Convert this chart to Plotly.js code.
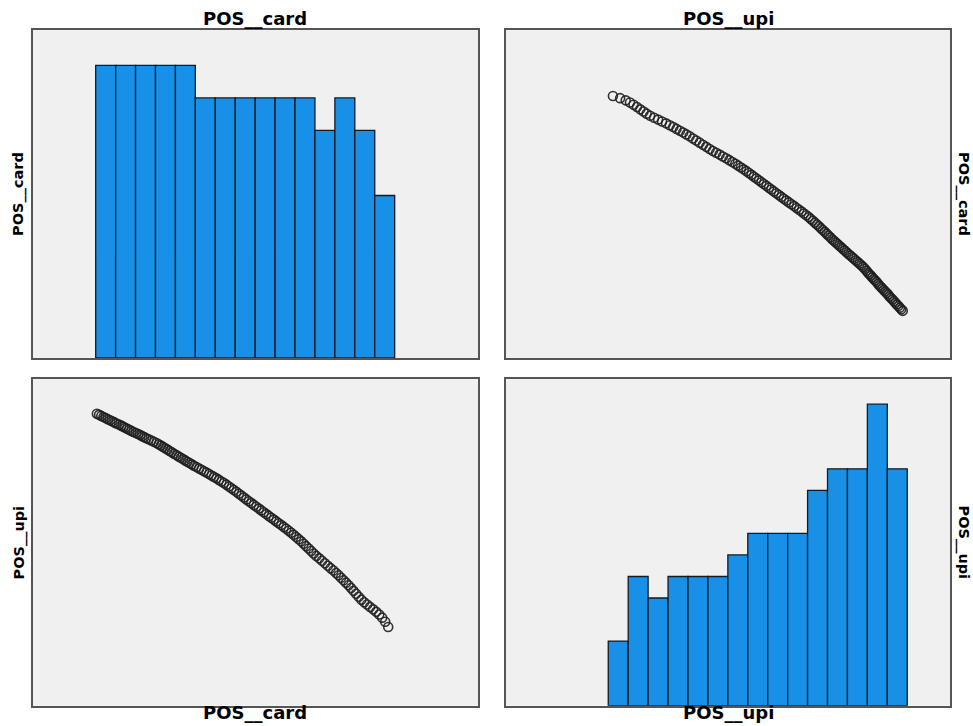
<!DOCTYPE html>
<html>
<head>
<meta charset="utf-8">
<script src="https://cdn.plot.ly/plotly-3.0.1.min.js"></script>
<style>html,body{margin:0;padding:0;background:#fff;}#chart{width:973px;height:726px;}</style>
</head>
<body>
<div id="chart"></div>
<script>
// Variable names
const varCard = "POS__card";
const varUpi = "POS__upi";

const cardValues = [
  40.12,40.34,40.56,40.78,41.00,41.22,41.44,41.66,41.88,
  42.08,42.34,42.56,42.76,42.96,43.16,43.36,43.58,43.80,
  44.04,44.25,44.46,44.67,44.88,45.09,45.32,45.58,45.84,
  46.10,46.32,46.54,46.76,46.98,47.20,47.42,47.64,47.86,
  48.10,48.32,48.54,48.76,48.98,49.20,49.42,49.64,49.86,
  50.12,50.37,50.62,50.87,51.12,51.37,51.62,51.87,
  52.12,52.37,52.62,52.87,53.12,53.37,53.62,53.87,
  54.12,54.37,54.62,54.87,55.12,55.37,55.62,55.87,
  56.12,56.37,56.62,56.87,57.12,57.37,57.62,57.87,
  58.12,58.37,58.62,58.87,59.12,59.37,59.62,59.87,
  60.12,60.37,60.62,60.87,61.12,61.37,61.62,61.87,
  62.14,62.43,62.71,63.00,63.29,63.57,63.86,
  64.12,64.37,64.62,64.87,65.12,65.37,65.62,65.87,
  66.13,66.39,66.66,66.94,67.23,67.53,67.84,
  68.15,68.45,68.75,69.05,69.35
];

// POS__upi values (paired with cardValues, same order)
const upiValues = [
  59.55,59.40,59.26,59.11,58.96,58.81,58.67,58.52,58.37,58.22,58.08,
  57.93,57.79,57.64,57.50,57.36,57.21,57.07,56.93,56.79,56.64,56.50,56.36,56.21,56.07,
  55.91,55.74,55.57,55.39,55.21,55.03,54.85,54.66,54.48,54.29,54.10,
  53.91,53.73,53.55,53.37,53.19,53.01,52.83,52.65,52.46,52.28,52.09,
  51.91,51.72,51.53,51.33,51.14,50.94,50.74,50.53,50.32,50.11,
  49.88,49.64,49.40,49.15,48.90,48.65,48.39,48.13,
  47.87,47.62,47.37,47.12,46.87,46.62,46.37,46.12,
  45.87,45.62,45.37,45.12,44.87,44.62,44.37,44.12,
  43.87,43.59,43.32,43.04,42.75,42.45,42.15,
  41.83,41.50,41.17,40.83,40.50,40.17,
  39.83,39.50,39.17,38.83,38.50,38.17,
  37.84,37.52,37.19,36.85,36.52,36.17,
  35.80,35.40,35.00,34.60,34.20,
  33.85,33.54,33.21,32.88,32.54,32.18,
  31.75,31.19,30.47
];

const barFill = "#1890e8";
const barLine = "#121a22";
const frame = "#555555";

const histMarker = {color: barFill, line: {color: barLine, width: 1.3}};
const scatMarker = {symbol: "circle-open", size: 9, color: "rgba(30,30,30,0.9)", line: {width: 1.6}};

const traces = [
  {type: "histogram", x: cardValues, autobinx: false, xbins: {start: 40, end: 70, size: 2},
   marker: histMarker, xaxis: "x", yaxis: "y", hoverinfo: "none"},
  {type: "scatter", mode: "markers", x: upiValues, y: cardValues, marker: scatMarker,
   xaxis: "x2", yaxis: "y2", hoverinfo: "none"},
  {type: "scatter", mode: "markers", x: cardValues, y: upiValues, marker: scatMarker,
   xaxis: "x3", yaxis: "y3", hoverinfo: "none"},
  {type: "histogram", x: upiValues, autobinx: false, xbins: {start: 30, end: 60, size: 2},
   marker: histMarker, xaxis: "x4", yaxis: "y4", hoverinfo: "none"}
];

const W = 973, H = 726;
const colL = [33 / W, 478 / W], colR = [506 / W, 950 / W];
const rowT = [1 - 358 / H, 1 - 29.7 / H], rowB = [1 - 705.7 / H, 1 - 379 / H];
const cardRange = [33.71, 78.36];
const upiRange = [19.74, 64.29];

function ax(domain, range, anchor) {
  return {domain: domain, range: range, anchor: anchor, showgrid: false, zeroline: false,
          showticklabels: false, ticks: "", showline: true, mirror: true,
          linecolor: frame, linewidth: 2, fixedrange: true};
}

const hFont = {family: "DejaVu Sans", size: 18, weight: "bold", color: "#000"};
const vFont = {family: "DejaVu Sans", size: 14.5, weight: "bold", color: "#000"};

function ann(text, x, y, angle, font, yanchor) {
  return {text: text, x: x, y: y, xref: "paper", yref: "paper", showarrow: false,
          xanchor: "center", yanchor: yanchor || "middle", textangle: angle, font: font};
}

const layout = {
  width: W, height: H,
  margin: {l: 0, r: 0, t: 0, b: 0},
  paper_bgcolor: "#ffffff",
  plot_bgcolor: "#f0f0f0",
  showlegend: false,
  bargap: 0,
  xaxis: ax(colL, cardRange, "y"),
  yaxis: ax(rowT, [0, 10.1], "x"),
  xaxis2: ax(colR, upiRange, "y2"),
  yaxis2: ax(rowT, cardRange, "x2"),
  xaxis3: ax(colL, cardRange, "y3"),
  yaxis3: ax(rowB, upiRange, "x3"),
  xaxis4: ax(colR, upiRange, "y4"),
  yaxis4: ax(rowB, [0, 15.17], "x4"),
  annotations: [
    ann(varCard, 255.5 / W, 1 - 19 / H, 0, hFont),
    ann(varUpi, 728 / W, 1 - 19 / H, 0, hFont),
    ann(varCard, 255.5 / W, 1 / H, 0, hFont, "bottom"),
    ann(varUpi, 728 / W, 1 / H, 0, hFont, "bottom"),
    ann(varCard, 19 / W, 1 - 194 / H, -90, vFont),
    ann(varUpi, 19 / W, 1 - 542.5 / H, -90, vFont),
    ann(varCard, 963 / W, 1 - 194 / H, 90, vFont),
    ann(varUpi, 963 / W, 1 - 542.5 / H, 90, vFont)
  ]
};

Plotly.newPlot("chart", traces, layout, {displayModeBar: false, staticPlot: true});
</script>
</body>
</html>
